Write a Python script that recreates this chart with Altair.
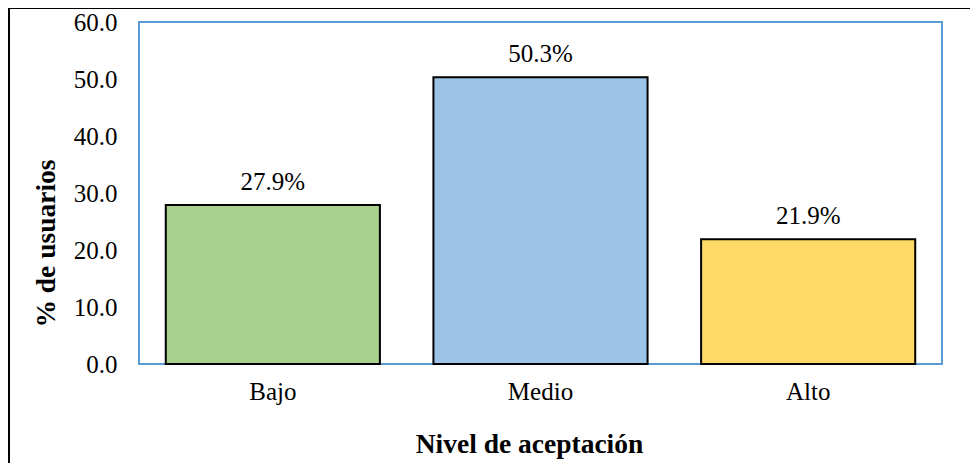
import altair as alt
import pandas as pd

categories = ["Bajo", "Medio", "Alto"]
values = [27.9, 50.3, 21.9]
labels = ["27.9%", "50.3%", "21.9%"]
colors = ["#A9D18E", "#9DC3E6", "#FFD966"]

df = pd.DataFrame({"cat": categories, "val": values, "lab": labels, "col": colors})

FONT = "Liberation Serif"

x = alt.X("cat:N", sort=categories,
          scale=alt.Scale(paddingInner=0.2, paddingOuter=0.1),
          axis=alt.Axis(title="Nivel de aceptación", labelAngle=0, ticks=False, domain=False,
                        labelFontSize=25, labelFont=FONT, labelColor="black", labelPadding=15,
                        titleFont=FONT, titleFontSize=27.5, titleFontWeight="bold", titleColor="black",
                        titleX=390, titleY=88, titleAlign="center", titleBaseline="alphabetic"))
y = alt.Y("val:Q", scale=alt.Scale(domain=[0, 60]),
          axis=alt.Axis(title="% de usuarios", values=[0, 10, 20, 30, 40, 50, 60], format=".1f",
                        ticks=False, domain=False, grid=False,
                        labelFontSize=25, labelFont=FONT, labelColor="black", labelPadding=22,
                        titleFont=FONT, titleFontSize=27.5, titleFontWeight="bold", titleColor="black",
                        titleX=-93, titleY=221, titleAngle=270, titleAlign="center", titleBaseline="middle"))

bars = alt.Chart(df).mark_bar(stroke="black", strokeWidth=2).encode(
    x=x, y=y, color=alt.Color("col:N", scale=None))

text = alt.Chart(df).mark_text(font=FONT, fontSize=25, color="black", baseline="alphabetic", dy=-15).encode(
    x=alt.X("cat:N", sort=categories), y="val:Q", text="lab:N")

border = alt.Chart(pd.DataFrame({"a": [0]})).mark_rect(
    fill=None, stroke="black", strokeWidth=2, clip=False).encode(
    x=alt.value(-130), x2=alt.value(860), y=alt.value(-14), y2=alt.value(470))

chart = alt.layer(bars, text, border).properties(
    width=803, height=342,
    background="white",
    autosize=alt.AutoSizeParams(type="none"),
    padding={"left": 131, "top": 14, "right": 28, "bottom": 99},
).configure_view(stroke="#5B9BD5", strokeWidth=2)

chart.save("out.html", embed_options={"renderer": "svg", "actions": False})
